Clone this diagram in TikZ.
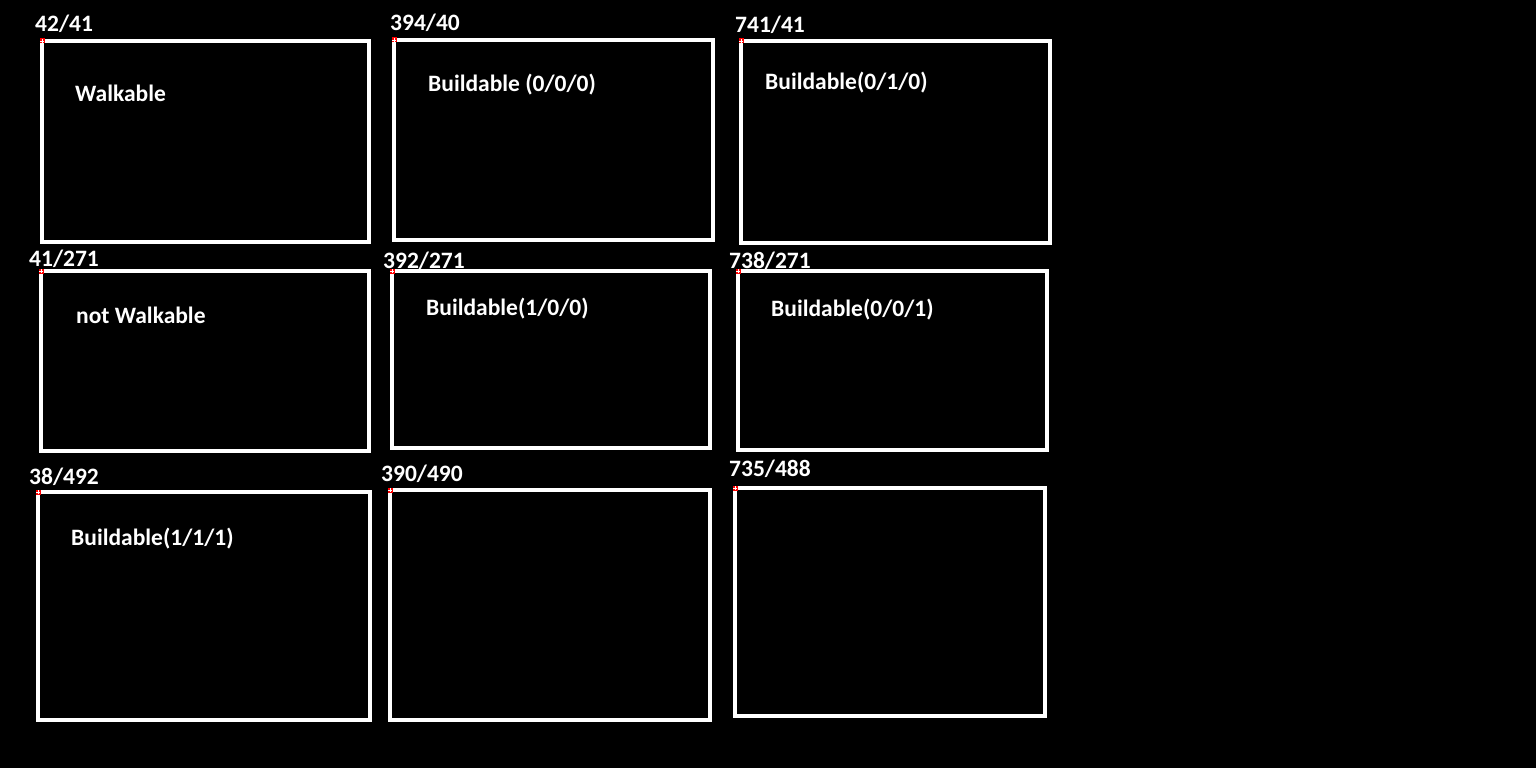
\documentclass[tikz,border=0pt]{standalone}
\usepackage{fontspec}
\setmainfont{Carlito}
\begin{document}
\begin{tikzpicture}[x=1pt,y=-1pt,
  frame/.style={draw=white,line width=4pt},
  coord/.style={text=white,font=\bfseries\fontsize{23.5}{28}\selectfont,anchor=base west,inner sep=0pt},
  lbl/.style={text=white,font=\bfseries\fontsize{23.5}{28}\selectfont,anchor=base west,inner sep=0pt},
  marker/.style={fill=red,draw=none,minimum size=5pt,inner sep=0pt}]
\fill[black] (0,0) rectangle (1536,768);
\useasboundingbox (0,0) rectangle (1536,768);
% frames
\draw[frame] (42,41) rectangle (369,242);
\draw[frame] (394,40) rectangle (713,240);
\draw[frame] (741,41) rectangle (1050,243);
\draw[frame] (41,271) rectangle (369,451);
\draw[frame] (392,271) rectangle (710,448);
\draw[frame] (738,271) rectangle (1047,450);
\draw[frame] (38,492) rectangle (370,720);
\draw[frame] (390,490) rectangle (710,720);
\draw[frame] (735,488) rectangle (1045,716);
% markers
\foreach \p/\n in {(42,41)/m1,(394,40)/m2,(741,41)/m3,(41,271)/m4,(392,271)/m5,(738,271)/m6,(38,492)/m7,(390,490)/m8,(735,488)/m9}{
  \node[marker] (\n) at \p {};
  \draw[white,line width=0.8pt] ([xshift=-1.6pt]\n.center) -- ([xshift=1.6pt]\n.center)
        ([yshift=-1.6pt]\n.center) -- ([yshift=1.6pt]\n.center);
}
% coordinate labels
\node[coord] (c1) at (35,32) {42/41};
\node[coord] (c2) at (390,31) {394/40};
\node[coord] (c3) at (735,33) {741/41};
\node[coord] (c4) at (29,266) {41/271};
\node[coord] (c5) at (383,268) {392/271};
\node[coord] (c6) at (729,268) {738/271};
\node[coord] (c7) at (29,484) {38/492};
\node[coord] (c8) at (381,481) {390/490};
\node[coord] (c9) at (729,476) {735/488};
% inner labels
\node[lbl] (l1) at (75,101) {Walkable};
\node[lbl] (l2) at (428,91) {Buildable (0/0/0)};
\node[lbl] (l3) at (765,89) {Buildable(0/1/0)};
\node[lbl] (l4) at (76,323) {not Walkable};
\node[lbl] (l5) at (426,315) {Buildable(1/0/0)};
\node[lbl] (l6) at (771,316) {Buildable(0/0/1)};
\node[lbl] (l7) at (71,545) {Buildable(1/1/1)};
\end{tikzpicture}
\end{document}
